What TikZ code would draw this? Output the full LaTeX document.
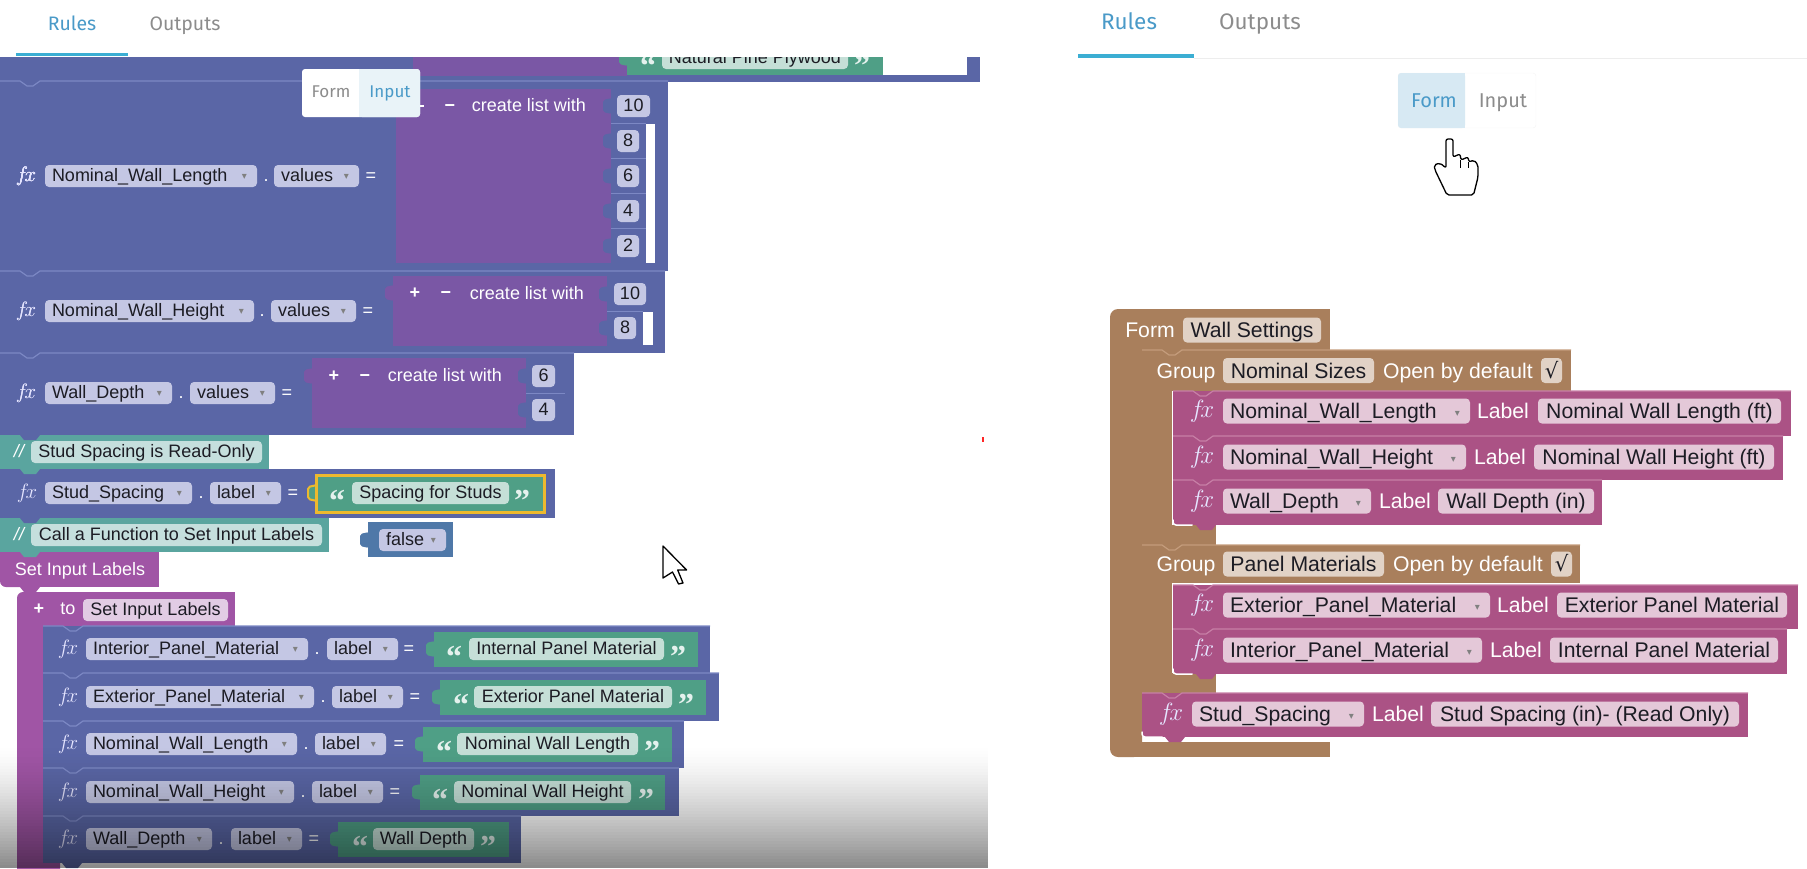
\documentclass[tikz,border=0pt]{standalone}
\usepackage{fontspec}
\setmainfont{Liberation Sans}
\newfontfamily\tabfam{Fira Sans}
\newfontfamily\fxfam{Liberation Serif}
\newfontfamily\symfam{DejaVu Sans}
\newcommand{\lfont}{\fontsize{18}{20}\selectfont}
\newcommand{\rfont}{\fontsize{21.2}{24}\selectfont}
\definecolor{procblue}{HTML}{5A66A6}
\definecolor{procline}{HTML}{7C88C4}
\definecolor{listpurple}{HTML}{7A57A5}
\definecolor{stringgreen}{HTML}{4F9F86}
\definecolor{noteteal}{HTML}{5AA59F}
\definecolor{funcpurple}{HTML}{A055A5}
\definecolor{formrose}{HTML}{AB5285}
\definecolor{roseline}{HTML}{C77FA6}
\definecolor{formbrown}{HTML}{A97F5C}
\definecolor{brownline}{HTML}{C49C7C}
\definecolor{falseblue}{HTML}{4F78A8}
\definecolor{tabblue}{HTML}{4A9AC8}
\definecolor{chipink}{HTML}{1C1C24}
\definecolor{chipblue}{HTML}{C4C7E4}
\definecolor{markyellow}{HTML}{EDB92E}
\tikzset{
  chipbase/.style={rounded corners=4, inner sep=0, text=chipink},
  lchip/.style={chipbase, font=\lfont, minimum height=22, text height=15, text depth=4},
  rchip/.style={chipbase, font=\rfont, minimum height=25, text height=20, text depth=5},
  bluechip/.style={lchip, fill=chipblue},
  tealchip/.style={lchip, fill=noteteal!35!white},
  greenchip/.style={lchip, fill=stringgreen!33!white},
  funcchip/.style={lchip, fill=funcpurple!30!white},
  rosechip/.style={rchip, fill=formrose!32!white},
  tanchip/.style={rchip, fill=formbrown!35!white},
  wlabel/.style={inner sep=0, text=white, font=\lfont, text height=15, text depth=4},
  rlabel/.style={inner sep=0, text=white, font=\rfont, text height=20, text depth=5},
  fxmark/.style={inner sep=0, text=white!90!blue, font=\fontsize{22}{24}\selectfont},
  quotemark/.style={inner sep=0, anchor=base, text=white!85!stringgreen, font={\fxfam\bfseries\fontsize{32}{34}\selectfont}},
  tabtext/.style={inner sep=0, text height=16, text depth=5, font={\tabfam\fontsize{#1}{24}\selectfont}},
  pointer/.style={fill=white, draw=black, line width=1.3, line join=round}
}
% chip between two x values, centred text
\newcommand{\chipat}[6][bluechip]{%
  \pgfmathsetmacro\chipw{#4-#3}\pgfmathsetmacro\chipc{(#3+#4)/2}
  \node[#1, minimum width=\chipw] (#2) at (\chipc,#5) {#6};}
% chip with a dropdown mark
\newcommand{\varat}[6][bluechip]{%
  \pgfmathsetmacro\chipw{#4-#3}\pgfmathsetmacro\chipc{(#3+#4)/2}
  \node[#1, minimum width=\chipw] (#2) at (\chipc,#5)
    {\hbox to \chipw pt{\hskip7pt #6\hfill\raisebox{2pt}{\symfam\fontsize{10}{10}\selectfont\color{gray}▾}\hskip10pt}};}
\newcommand{\blockbar}[6]{%
  \fill[#5] (#1,#3) rectangle (#2,#4);
  \draw[#6, line width=1.2] (#1,#3) -- ++(20,0) -- ++(7,5) -- ++(6,0) -- ++(7,-5) -- (#2,#3);}
\newcommand{\sidetab}[3]{\fill[#3, rounded corners=2] (#1+1,#2-8) -- (#1-8,#2-6) -- (#1-8,#2+6) -- (#1+1,#2+8) -- cycle;}
\newcommand{\lowtab}[3]{\fill[#3] (#1,#2) -- ++(4,5) -- ++(12,0) -- ++(4,-5) -- cycle;}
\begin{document}
\begin{tikzpicture}[x=1pt,y=-1pt]
    \useasboundingbox (0,0) rectangle (1807,868);
    % left panel, block cut off at the top
    \fill[procblue] (0,40) rectangle (980,82);
    \fill[listpurple] (413,40) rectangle (627,76);
    \fill[stringgreen] (627,40) rectangle (883,75);
    \sidetab{627}{58}{stringgreen}
    \fill[white] (883,40) rectangle (967,75);
    \node[quotemark] (pinel) at (648,76) {“};
    \chipat[greenchip]{pine}{662}{848}{58}{Natural Pine Plywood}
    \node[quotemark] (piner) at (862,76) {”};
    \fill[white] (0,0) rectangle (1000,57);
    \node[tabtext=19.5, text=tabblue] (rulesl) at (72,25) {Rules};
    \node[tabtext=19.5, text=gray!90] (outputsl) at (185,25) {Outputs};
    \fill[tabblue!80!cyan] (16,53) rectangle (128,56);
    % wall length list
    \blockbar{0}{668}{81}{271}{procblue}{procline}
    \fill[listpurple] (396,89) rectangle (611,263);
    \fill[white] (646,124) rectangle (655,263);
    \foreach \yy in {123,158,193,228} \draw[procline, line width=.6] (611,\yy) -- (646,\yy);
    \foreach \yy in {106,141,176,211,246} \sidetab{611}{\yy}{procblue}
    \node[fxmark] (fxa) at (26,176) {$f\!x$};
    \varat{lenvar}{45}{257}{176}{Nominal\_Wall\_Length}
    \node[wlabel] (lendot) at (266,176) {.};
    \varat{lenval}{274}{359}{176}{values}
    \node[wlabel] (leneq) at (371,176) {=};
    \node[wlabel] (lenminus) at (450,106) {\bfseries −};
    \node[wlabel] (lenmake) at (529,106) {create list with};
    \chipat{lena}{617}{650}{106}{10}
    \chipat{lenb}{617}{639}{141}{8}
    \chipat{lenc}{617}{639}{176}{6}
    \chipat{lend}{617}{639}{211}{4}
    \chipat{lene}{617}{639}{246}{2}
    % wall height list
    \blockbar{0}{665}{271}{353}{procblue}{procline}
    \fill[listpurple] (393,276) rectangle (607,346);
    \sidetab{393}{293}{listpurple}
    \fill[white] (643,312) rectangle (653,345);
    \draw[procline, line width=.6] (607,311) -- (643,311);
    \foreach \yy in {294,328} \sidetab{607}{\yy}{procblue}
    \node[fxmark] (fxb) at (26,311) {$f\!x$};
    \varat{hgtvar}{45}{254}{311}{Nominal\_Wall\_Height}
    \node[wlabel] (hgtdot) at (262,311) {.};
    \varat{hgtval}{271}{356}{311}{values}
    \node[wlabel] (hgteq) at (368,311) {=};
    \node[wlabel] (hgtplus) at (415,293) {\bfseries +};
    \node[wlabel] (hgtminus) at (446,293) {\bfseries −};
    \node[wlabel] (hgtmake) at (527,294) {create list with};
    \chipat{hgta}{614}{646}{294}{10}
    \chipat{hgtb}{614}{636}{328}{8}
    % wall depth list
    \blockbar{0}{574}{353}{435}{procblue}{procline}
    \fill[listpurple] (312,358) rectangle (526,428);
    \sidetab{312}{376}{listpurple}
    \draw[procline, line width=.6] (526,393) -- (565,393);
    \foreach \yy in {376,410} \sidetab{526}{\yy}{procblue}
    \node[fxmark] (fxc) at (26,393) {$f\!x$};
    \varat{dptvar}{45}{172}{393}{Wall\_Depth}
    \node[wlabel] (dptdot) at (181,393) {.};
    \varat{dptval}{190}{275}{393}{values}
    \node[wlabel] (dpteq) at (287,393) {=};
    \node[wlabel] (dptplus) at (334,376) {\bfseries +};
    \node[wlabel] (dptminus) at (365,376) {\bfseries −};
    \node[wlabel] (dptmake) at (445,376) {create list with};
    \chipat{dpta}{532}{555}{376}{6}
    \chipat{dptb}{532}{555}{410}{4}
    % read only note and spacing label
    \fill[noteteal] (0,435) rectangle (269,469);
    \lowtab{20}{435}{procblue}
    \node[wlabel, font={\lfont\itshape}] (notea) at (19,452) {//};
    \chipat[tealchip]{noteatext}{31}{262}{452}{Stud Spacing is Read-Only}
    \fill[procblue] (0,469) rectangle (555,518);
    \lowtab{20}{469}{noteteal}
    \node[fxmark] (fxd) at (27,493) {$f\!x$};
    \varat{sptvar}{45}{192}{493}{Stud\_Spacing}
    \node[wlabel] (sptdot) at (201,493) {.};
    \varat{sptval}{210}{281}{493}{label}
    \node[wlabel] (spteq) at (293,493) {=};
    \sidetab{316}{493}{stringgreen, draw=markyellow, line width=2}
    \fill[stringgreen, draw=markyellow, line width=3] (316,475) rectangle (544,512);
    \node[quotemark] (sptl) at (337,511) {“};
    \chipat[greenchip]{spttext}{352}{509}{493}{Spacing for Studs}
    \node[quotemark] (sptr) at (522,511) {”};
    % function note, call and definition
    \fill[noteteal] (0,518) rectangle (329,552);
    \lowtab{20}{518}{procblue}
    \node[wlabel, font={\lfont\itshape}] (noteb) at (19,535) {//};
    \chipat[tealchip]{notebtext}{31}{322}{535}{Call a Function to Set Input Labels}
    \sidetab{368}{540}{falseblue}
    \fill[falseblue] (368,522) rectangle (453,557);
    \varat[bluechip]{falsevar}{379}{446}{540}{false}
    \fill[funcpurple, rounded corners=6] (0,552) rectangle (40,587);
    \fill[funcpurple] (0,552) rectangle (159,580);
    \fill[funcpurple] (20,575) rectangle (159,587);
    \lowtab{20}{552}{noteteal}
    \node[wlabel] (callfn) at (80,570) {Set Input Labels};
    \fill[funcpurple, rounded corners=6] (17,592) rectangle (60,880);
    \fill[funcpurple] (30,592) rectangle (235,626);
    \lowtab{20}{587}{funcpurple}
    \node[wlabel] (defplus) at (39,609) {\bfseries +};
    \node[wlabel] (defto) at (68,609) {to};
    \chipat[funcchip]{defname}{83}{228}{610}{Set Input Labels}
    \foreach \id/\ya/\yb/\xe/\yc/\vtxt/\vx/\lx/\eqx/\gx/\gz/\qa/\cx/\cz/\qb/\stxt in {
      a/626/673/710/649/{Interior\_Panel\_Material}/308/327/409/434/698/454/469/664/678/{Internal Panel Material},
      b/673/721/719/697/{Exterior\_Panel\_Material}/314/332/415/440/706/461/474/672/686/{Exterior Panel Material},
      c/721/768/684/744/{Nominal\_Wall\_Length}/297/315/399/423/672/444/457/638/652/{Nominal Wall Length},
      d/768/816/679/792/{Nominal\_Wall\_Height}/294/312/395/420/665/440/454/631/646/{Nominal Wall Height},
      e/816/863/521/839/{Wall\_Depth}/212/231/314/338/509/360/373/474/488/{Wall Depth}}{
      \blockbar{43}{\xe}{\ya}{\yb}{procblue}{procline}
      \node[fxmark] (fx\id) at (68,\yc) {$f\!x$};
      \varat{var\id}{86}{\vx}{\yc}{\vtxt}
      \node[wlabel] (dot\id) at (\vx+9,\yc) {.};
      \varat{lab\id}{\lx}{\lx+71}{\yc}{label}
      \node[wlabel] (eq\id) at (\eqx,\yc) {=};
      \sidetab{\gx}{\yc}{stringgreen}
      \fill[stringgreen] (\gx,\yc-17) rectangle (\gz,\yc+18);
      \node[quotemark] (ql\id) at (\qa,\yc+18) {“};
      \chipat[greenchip]{str\id}{\cx}{\cz}{\yc}{\stxt}
      \node[quotemark] (qr\id) at (\qb,\yc+18) {”};
    }
    \lowtab{62}{863}{procblue}
    \fill[red!85!white] (982,437) rectangle (984,442);
    % video shadow at the bottom of the left panel
    \foreach \yy in {745,748,...,865} {
      \pgfmathsetmacro\shadeop{0.47*((\yy-745)/123)^1.4}
      \fill[black, opacity=\shadeop] (0,\yy) rectangle (988,\yy+3);
    }
    % popup over the blocks
    \fill[white, rounded corners=3] (302,69) rectangle (420,117);
    \fill[tabblue!12!white, rounded corners=3] (359,69) rectangle (420,117);
    \fill[tabblue!12!white] (359,69) rectangle (380,117);
    \node[tabtext=17, text=gray!90] (popform) at (331,92) {Form};
    \node[tabtext=17, text=tabblue] (popinput) at (390,92) {Input};
    \draw[white, line width=2.5] (420,106) -- (424,106);
    % arrow pointer
    \draw[pointer] (663,546) -- (663,578) -- (672.5,572) -- (678.6,584) -- (683,583)
      -- (677.7,570) -- (686.6,570) -- cycle;
    % right panel header
    \node[tabtext=22.5, text=tabblue] (rulesr) at (1129,24) {Rules};
    \node[tabtext=22.5, text=gray!90] (outputsr) at (1260,24) {Outputs};
    \draw[black!7, line width=.8] (1194,58) -- (1807,58);
    \fill[tabblue!80!cyan] (1078,54) rectangle (1194,58);
    \draw[black!4, fill=white, rounded corners=3] (1398,73) rectangle (1536,128);
    \fill[tabblue!22!white, rounded corners=3] (1398,73) rectangle (1465,128);
    \fill[tabblue!22!white] (1440,73) rectangle (1465,128);
    \node[tabtext=20, text=tabblue] (togform) at (1434,102) {Form};
    \node[tabtext=20, text=gray!90] (toginput) at (1503,102) {Input};
    % hand pointer
    \draw[pointer, rounded corners=2] (1446,139) -- (1453,139) -- (1453,157) -- (1460,154) -- (1461,160)
      -- (1468,157) -- (1469,162) -- (1474,160) -- (1478,165) -- (1478,177) -- (1473.5,195) -- (1447,195)
      -- (1435,170) -- (1434,165) -- (1440,163) -- (1446,168) -- cycle;
    \draw[black, line width=.8] (1460,160) -- (1460,168) (1468,162) -- (1468,168);
    % form block
    \fill[formbrown, rounded corners=8] (1110,309) rectangle (1142,757);
    \fill[formbrown] (1120,309) rectangle (1330,350);
    \fill[formbrown] (1120,742) rectangle (1330,757);
    \node[rlabel] (formword) at (1150,330) {Form};
    \chipat[tanchip]{formname}{1183}{1321}{330}{Wall Settings}
    \foreach \id/\ya/\yb/\xe/\ft/\gtxt/\gb/\oc/\ca/\cb in {
      a/350/391/1571/545/{Nominal Sizes}/1374/1458/1541/1562,
      b/545/583/1580/693/{Panel Materials}/1384/1468/1551/1572}{
      \fill[formbrown] (1142,\ya) rectangle (1172,\ft);
      \fill[formbrown] (1142,\ft-20) rectangle (1216,\ft);
      \blockbar{1142}{\xe}{\ya}{\yb}{formbrown}{brownline}
      \node[rlabel] (grp\id) at (1186,\ya/2+\yb/2) {Group};
      \chipat[tanchip]{grpname\id}{1223}{\gb}{\ya/2+\yb/2}{\gtxt}
      \node[rlabel] (grpopen\id) at (\oc,\ya/2+\yb/2) {Open by default};
      \chipat[tanchip]{grpchk\id}{\ca}{\cb}{\ya/2+\yb/2}{{\symfam √}}
    }
    \foreach \id/\xa/\fxx/\vxa/\ya/\yb/\xe/\yc/\vtxt/\vx/\lc/\ta/\tb/\ttxt in {
      a/1173/1202/1223/391/436/1791/411/{Nominal\_Wall\_Length}/1470/1503/1538/1781/{Nominal Wall Length (ft)},
      b/1173/1202/1223/436/480/1783/457/{Nominal\_Wall\_Height}/1466/1500/1534/1774/{Nominal Wall Height (ft)},
      c/1173/1202/1223/480/525/1602/501/{Wall\_Depth}/1371/1405/1438/1594/{Wall Depth (in)},
      d/1173/1202/1223/585/629/1798/605/{Exterior\_Panel\_Material}/1490/1523/1557/1787/{Exterior Panel Material},
      e/1173/1202/1223/629/674/1787/650/{Interior\_Panel\_Material}/1482/1516/1550/1778/{Internal Panel Material},
      f/1142/1171/1192/693/737/1748/714/{Stud\_Spacing}/1364/1398/1431/1739/{Stud Spacing (in)- (Read Only)}}{
      \blockbar{\xa}{\xe}{\ya}{\yb}{formrose}{roseline}
      \node[fxmark, font=\fontsize{25}{27}\selectfont] (rfx\id) at (\fxx,\yc) {$f\!x$};
      \varat[rosechip]{rvar\id}{\vxa}{\vx}{\yc}{\vtxt}
      \node[rlabel] (rlab\id) at (\lc,\yc) {Label};
      \chipat[rosechip]{rtxt\id}{\ta}{\tb}{\yc}{\ttxt}
    }
    \lowtab{1196}{525}{formrose}
    \lowtab{1196}{674}{formrose}
    \lowtab{1165}{737}{formrose}
    \draw[white, line width=1.5, rounded corners=3, line cap=round] (1173,520) -- (1173,525) -- (1192,525);
    \draw[white, line width=1.5, rounded corners=3, line cap=round] (1173,669) -- (1173,674) -- (1192,674);
    \draw[white, line width=1.5, rounded corners=3, line cap=round] (1142,732) -- (1142,737) -- (1162,737);
\end{tikzpicture}
\end{document}
